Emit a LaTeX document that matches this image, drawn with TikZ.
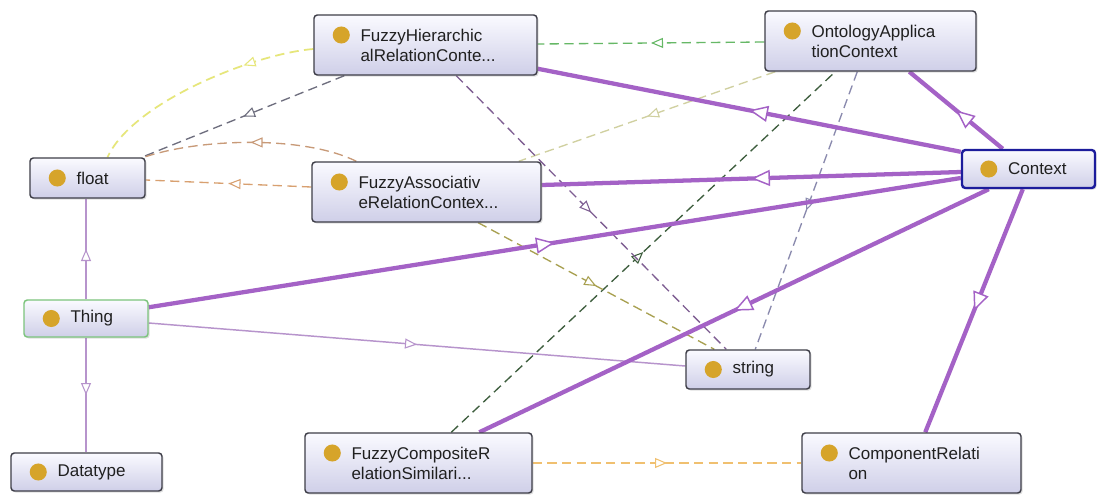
\documentclass[tikz,border=0pt]{standalone}
\usepackage{fontspec}
\setmainfont{Liberation Sans}
\usetikzlibrary{calc,fit,shadows,arrows.meta,decorations.markings}
\pgfdeclarelayer{bg}
\pgfsetlayers{bg,main}
\definecolor{purp}{HTML}{A462C6}
\definecolor{lpurp}{HTML}{B794CC}
\definecolor{boxtop}{HTML}{FAFAFF}
\definecolor{boxbot}{HTML}{CFCFE8}
\definecolor{boxline}{HTML}{3E3E48}
\definecolor{dotcol}{HTML}{D6A42A}
\definecolor{ctxline}{HTML}{1C1C9C}
\definecolor{thingline}{HTML}{7CC47C}
\definecolor{textc}{HTML}{202020}
\definecolor{cyellow}{HTML}{E6E67A}
\definecolor{cgray}{HTML}{6E6E7E}
\definecolor{cbrown}{HTML}{C89A78}
\definecolor{corange}{HTML}{D8A070}
\definecolor{cgreen}{HTML}{66B866}
\definecolor{cpale}{HTML}{D0D0A0}
\definecolor{cdkgreen}{HTML}{3E5E3E}
\definecolor{clav}{HTML}{8A8AAE}
\definecolor{cpurd}{HTML}{7E5E92}
\definecolor{colive}{HTML}{A8A050}
\definecolor{corg}{HTML}{F0C070}
\begin{document}
\begin{tikzpicture}[x=0.75pt,y=-0.75pt,
  box/.style={draw=boxline, line width=1.1pt, rounded corners=2.5pt, top color=boxtop, bottom color=boxbot, inner sep=0pt,
    drop shadow={opacity=0.25, shadow xshift=1.2pt, shadow yshift=-1.2pt}},
  lbl/.style={font=\fontsize{12.75}{15}\selectfont, text=textc, align=left, inner sep=0pt},
  bigarr/.style={postaction={decorate, decoration={markings, mark=at position #1 with {\arrow{Triangle[length=14pt,width=12pt,fill=white,line width=1.1pt]}}}}},
  bigarr/.default=0.5,
  smallarr/.style={postaction={decorate, decoration={markings, mark=at position #1 with {\arrow{Triangle[length=9pt,width=7.5pt,fill=white,line width=0.8pt]}}}}},
  smallarr/.default=0.5,
  thickrel/.style={draw=purp, line width=3.2pt, bigarr},
  thinrel/.style={draw=lpurp, line width=1.1pt, smallarr},
  dashrel/.style={dash pattern=on 7pt off 4pt, line width=1pt}
]
\useasboundingbox (0,0) rectangle (1100,494);

% nodes
\node[box, fit={(314,15)(537,75)}] (fh) {};
\fill[dotcol] ($(fh.west)+(28,-10)$) circle[radius=6.4pt];
\node[lbl, anchor=west] (fht) at ($(fh.west)+(47,0)$) {FuzzyHierarchic\\alRelationConte...};

\node[box, fit={(765,11)(976,71)}] (onto) {};
\fill[dotcol] ($(onto.west)+(28,-10)$) circle[radius=6.4pt];
\node[lbl, anchor=west] (ontot) at ($(onto.west)+(47,0)$) {OntologyApplica\\tionContext};

\node[box, fit={(962,150)(1095,188)}, draw=ctxline, line width=1.8pt] (ctx) {};
\fill[dotcol] ($(ctx.west)+(28,0)$) circle[radius=6.4pt];
\node[lbl, anchor=west] (ctxt) at ($(ctx.west)+(47,0)$) {Context};

\node[box, fit={(30,158)(145,198)}] (flt) {};
\fill[dotcol] ($(flt.west)+(28,0)$) circle[radius=6.4pt];
\node[lbl, anchor=west] (fltt) at ($(flt.west)+(47,0)$) {float};

\node[box, fit={(312,162)(541,222)}] (fa) {};
\fill[dotcol] ($(fa.west)+(28,-10)$) circle[radius=6.4pt];
\node[lbl, anchor=west] (fat) at ($(fa.west)+(47,0)$) {FuzzyAssociativ\\eRelationContex...};

\node[box, fit={(24,300)(148,337)}, draw=thingline] (thing) {};
\fill[dotcol] ($(thing.west)+(28,0)$) circle[radius=6.4pt];
\node[lbl, anchor=west] (thingt) at ($(thing.west)+(47,0)$) {Thing};

\node[box, fit={(11,453)(162,491)}] (dt) {};
\fill[dotcol] ($(dt.west)+(28,0)$) circle[radius=6.4pt];
\node[lbl, anchor=west] (dtt) at ($(dt.west)+(47,0)$) {Datatype};

\node[box, fit={(305,433)(532,493)}] (fc) {};
\fill[dotcol] ($(fc.west)+(28,-10)$) circle[radius=6.4pt];
\node[lbl, anchor=west] (fct) at ($(fc.west)+(47,0)$) {FuzzyCompositeR\\elationSimilari...};

\node[box, fit={(686,350)(810,389)}] (str) {};
\fill[dotcol] ($(str.west)+(28,0)$) circle[radius=6.4pt];
\node[lbl, anchor=west] (strt) at ($(str.west)+(47,0)$) {string};

\node[box, fit={(802,433)(1021,493)}] (cr) {};
\fill[dotcol] ($(cr.west)+(28,-10)$) circle[radius=6.4pt];
\node[lbl, anchor=west] (crt) at ($(cr.west)+(47,0)$) {ComponentRelati\\on};

% connectors
\begin{pgfonlayer}{bg}
\fill[white] (0,0) rectangle (1100,494);
% dashed
\draw[dashrel, cyellow, line width=1.3pt, smallarr=0.3] ($(fh.west)+(0,4)$) .. controls +(-60,5) and +(25,-55) .. ($(flt.north)+(20,0)$);
\draw[dashrel, cgray, smallarr] ($(fh.south west)+(31,0)$) -- ($(flt.north east)+(-4,0)$);
\draw[dashrel, cbrown, smallarr] ($(fa.north west)+(45,0)$) .. controls +(-50,-25) and +(60,-20) .. ($(flt.north east)+(-2,0)$);
\draw[dashrel, corange, smallarr] ($(fa.west)+(0,-5)$) -- ($(flt.east)+(0,2)$);
\draw[dashrel, cgreen, smallarr] ($(onto.west)+(0,1)$) -- ($(fh.east)+(0,-1)$);
\draw[dashrel, cpale, smallarr] ($(onto.south west)+(11,0)$) -- ($(fa.north east)+(-23,0)$);
\draw[dashrel, cdkgreen, smallarr] ($(fc.north west)+(147,0)$) -- ($(onto.south west)+(71,0)$);
\draw[dashrel, clav, smallarr] ($(onto.south west)+(93,0)$) -- ($(str.north west)+(70,0)$);
\draw[dashrel, cpurd, smallarr] ($(fh.south west)+(143,0)$) -- ($(str.north west)+(41,0)$);
\draw[dashrel, colive, smallarr] ($(fa.south west)+(167,0)$) -- ($(str.north west)+(29,0)$);
\draw[dashrel, corg, line width=1.2pt, smallarr] (fc.east) -- (cr.west);
% thin purple
\draw[thinrel] ($(thing.east)+(0,4.5)$) -- ($(str.west)+(0,-3.5)$);
\draw[thinrel] (thing.north) -- (thing.north |- flt.south);
\draw[thinrel] (thing.south) -- (thing.south |- dt.north);
% thick purple
\draw[thickrel] ($(ctx.north west)+(0,3)$) -- ($(fh.south east)+(0,-7)$);
\draw[thickrel] ($(ctx.north west)+(42,0)$) -- ($(onto.south west)+(145,0)$);
\draw[thickrel] ($(ctx.west)+(0,3)$) -- ($(fa.east)+(0,-7)$);
\draw[thickrel] ($(thing.north east)+(0,8)$) -- ($(ctx.west)+(0,9)$);
\draw[thickrel] ($(ctx.south west)+(28,0)$) -- ($(fc.north west)+(175,0)$);
\draw[thickrel] ($(ctx.south west)+(62,0)$) -- ($(cr.north west)+(124,0)$);
\end{pgfonlayer}
\end{tikzpicture}
\end{document}
